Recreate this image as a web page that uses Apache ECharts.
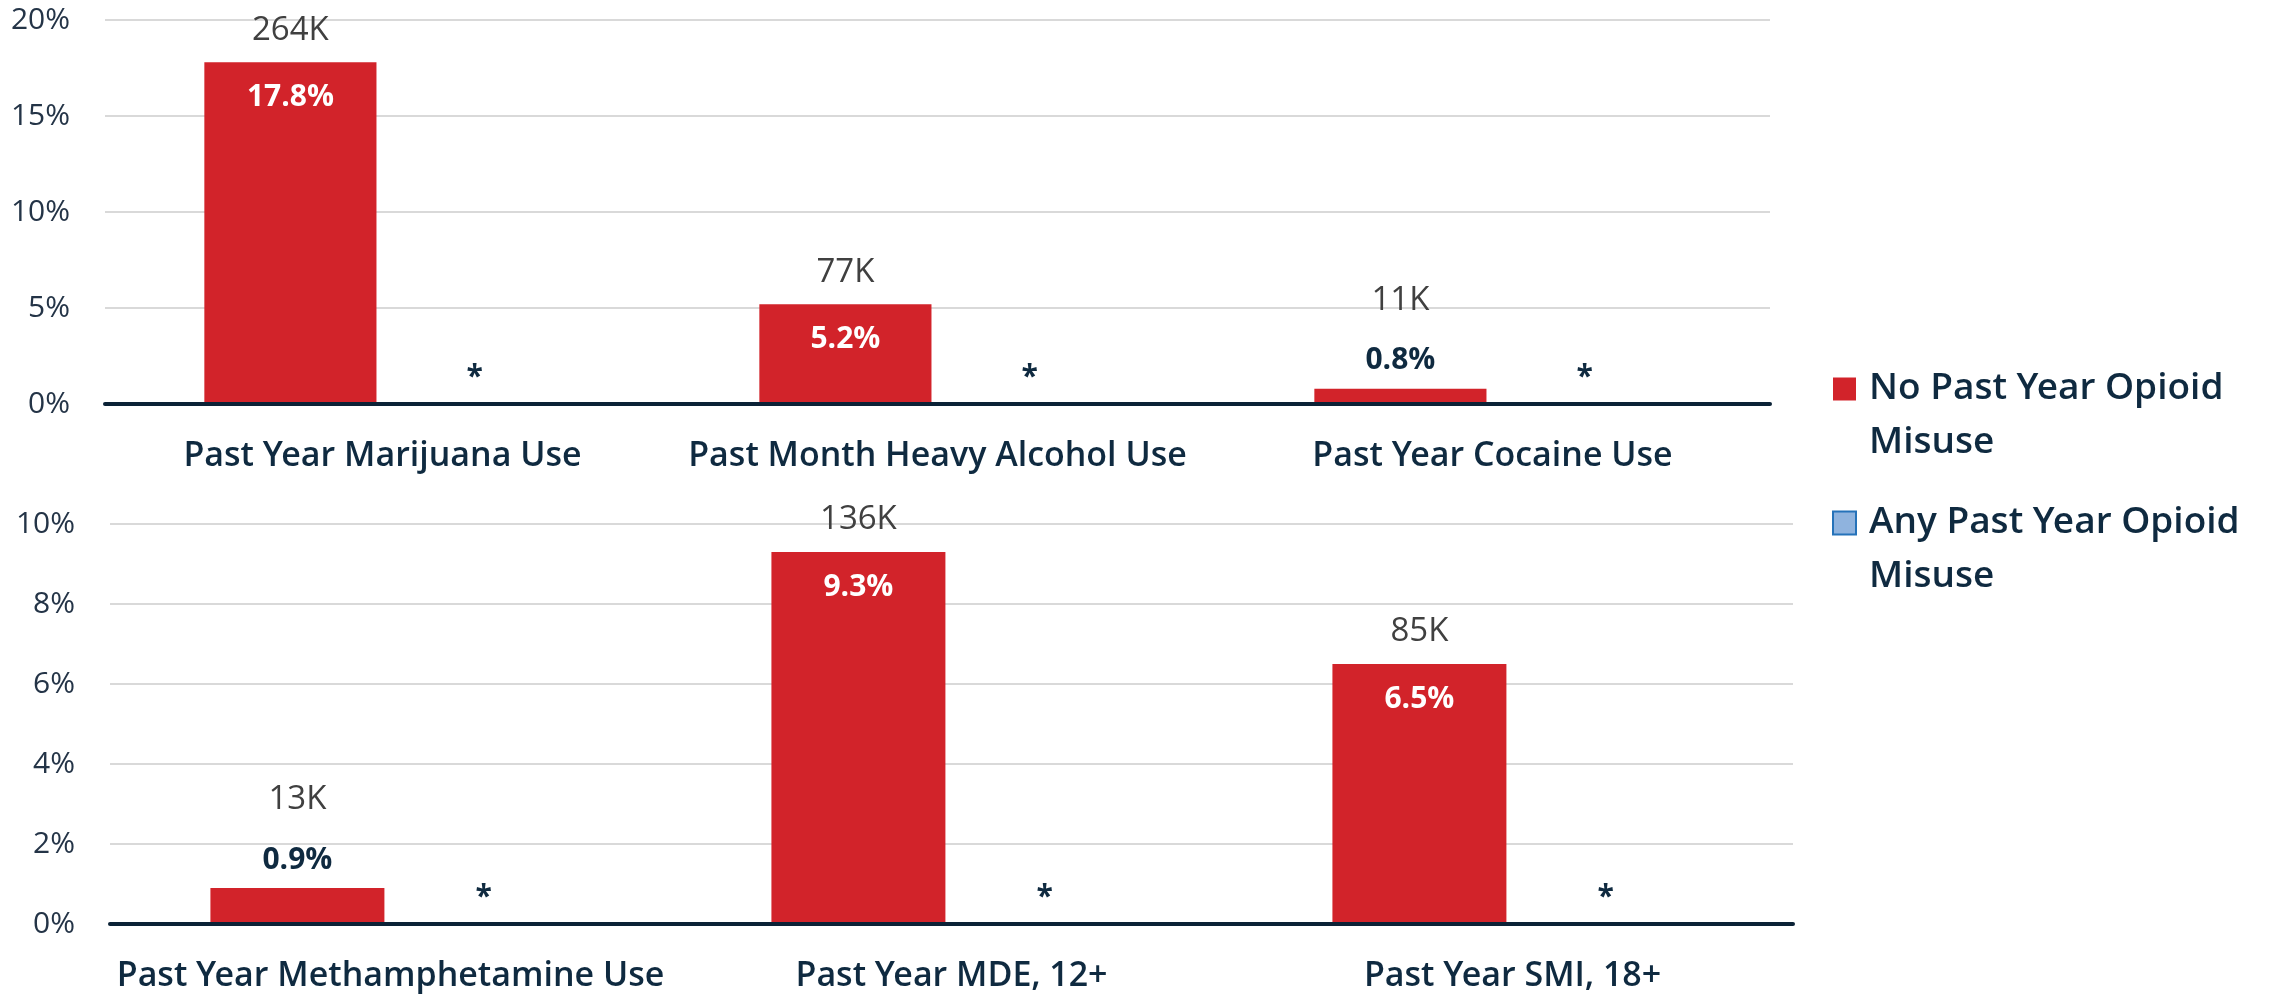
<!DOCTYPE html>
<html><head><meta charset="utf-8">
<script src="https://cdn.jsdelivr.net/npm/echarts@6/dist/echarts.min.js"></script>
<style>html,body{margin:0;padding:0;background:#fff}#c{width:2277px;height:997px}</style>
</head><body><div id="c"></div>
<script>
const topCategories = ['Past Year Marijuana Use', 'Past Month Heavy Alcohol Use', 'Past Year Cocaine Use'];
const topNoMisuse = [17.8, 5.2, 0.8];
const topNoMisuseCounts = ['264K', '77K', '11K'];
const topAnyMisuse = [0, 0, 0];
const topAnyMisuseLabels = ['*', '*', '*'];

const bottomCategories = ['Past Year Methamphetamine Use', 'Past Year MDE, 12+', 'Past Year SMI, 18+'];
const bottomNoMisuse = [0.9, 9.3, 6.5];
const bottomNoMisuseCounts = ['13K', '136K', '85K'];
const bottomAnyMisuse = [0, 0, 0];
const bottomAnyMisuseLabels = ['*', '*', '*'];

const topTicks = [0, 5, 10, 15, 20];
const bottomTicks = [0, 2, 4, 6, 8, 10];
const seriesNames = ['No Past Year Opioid Misuse', 'Any Past Year Opioid Misuse'];

const FONT = 'Open Sans';
const NAVY = '#0f2a40';
const RED = '#d2232a';

function redItems(vals, axisMax) {
  return vals.map(v => {
    const tall = v / axisMax > 0.15;
    return {
      value: v,
      label: tall
        ? { distance: -68.5, rich: {
            k: { fontFamily: FONT, fontSize: 33, color: '#404040', lineHeight: 67 },
            p: { fontFamily: FONT, fontSize: 30, fontWeight: 'bold', color: '#ffffff', lineHeight: 67 } } }
        : { distance: -2, rich: {
            k: { fontFamily: FONT, fontSize: 33, color: '#404040', lineHeight: 60 },
            p: { fontFamily: FONT, fontSize: 30, fontWeight: 'bold', color: NAVY, lineHeight: 60 } } }
    };
  });
}
function blueItems(vals) {
  return vals.map(v => ({ value: v, itemStyle: { borderWidth: 0 } }));
}
function redSeries(idx, vals, counts, axisMax) {
  return {
    name: seriesNames[0], type: 'bar', xAxisIndex: idx, yAxisIndex: idx,
    barCategoryGap: '35.8%', barGap: '7%',
    itemStyle: { color: RED },
    label: { show: true, position: 'top', align: 'center',
      formatter: p => '{k|' + counts[p.dataIndex] + '}\n{p|' + p.value.toFixed(1) + '%}' },
    data: redItems(vals, axisMax)
  };
}
function blueSeries(idx, vals, labels) {
  return {
    name: seriesNames[1], type: 'bar', xAxisIndex: idx, yAxisIndex: idx,
    barCategoryGap: '35.8%', barGap: '7%',
    itemStyle: { color: '#8fb3de', borderColor: '#2572b9', borderWidth: 2 },
    label: { show: true, position: 'top', distance: 12, fontFamily: FONT, fontSize: 30,
      fontWeight: 'bold', color: NAVY, formatter: p => labels[p.dataIndex] },
    data: blueItems(vals)
  };
}
function xAxisCfg(idx, cats) {
  return {
    type: 'category', gridIndex: idx, data: cats, z: 5,
    axisTick: { show: false },
    axisLine: { lineStyle: { color: '#0b2236', width: 4 } },
    axisLabel: { margin: 36, fontFamily: "'Open Sans SemiBold', 'Open Sans'", fontSize: 34, fontWeight: 600, color: NAVY, interval: 0 }
  };
}
function yAxisCfg(idx, ticks) {
  return {
    type: 'value', gridIndex: idx, min: ticks[0], max: ticks[ticks.length - 1],
    interval: ticks[1] - ticks[0],
    axisLine: { show: false }, axisTick: { show: false },
    splitLine: { lineStyle: { color: '#d9d9d9', width: 2 } },
    axisLabel: { margin: 35, fontFamily: FONT, fontSize: 30, color: '#243447', formatter: '{value}%' }
  };
}

const chart = echarts.init(document.getElementById('c'), null, { renderer: 'canvas' });
chart.setOption({
  animation: false,
  backgroundColor: '#ffffff',
  grid: [
    { left: 105, right: 507, top: 20, height: 384, containLabel: false },
    { left: 110, right: 484, top: 524, height: 400, containLabel: false }
  ],
  xAxis: [xAxisCfg(0, topCategories), xAxisCfg(1, bottomCategories)],
  yAxis: [yAxisCfg(0, topTicks), yAxisCfg(1, bottomTicks)],
  legend: {
    orient: 'vertical', left: 1832, top: 308, padding: 0,
    itemWidth: 23, itemHeight: 23, itemGap: -28, icon: 'rect',
    data: seriesNames,
    formatter: name => '\n' + name.replace(' Misuse', '\nMisuse'),
    textStyle: { fontFamily: "'Open Sans SemiBold', 'Open Sans'", fontSize: 37, fontWeight: 600, color: NAVY, lineHeight: 54, padding: [0, 0, 0, 8] }
  },
  series: [
    redSeries(0, topNoMisuse, topNoMisuseCounts, topTicks[topTicks.length - 1]),
    blueSeries(0, topAnyMisuse, topAnyMisuseLabels),
    redSeries(1, bottomNoMisuse, bottomNoMisuseCounts, bottomTicks[bottomTicks.length - 1]),
    blueSeries(1, bottomAnyMisuse, bottomAnyMisuseLabels)
  ]
});
</script>
</body></html>
